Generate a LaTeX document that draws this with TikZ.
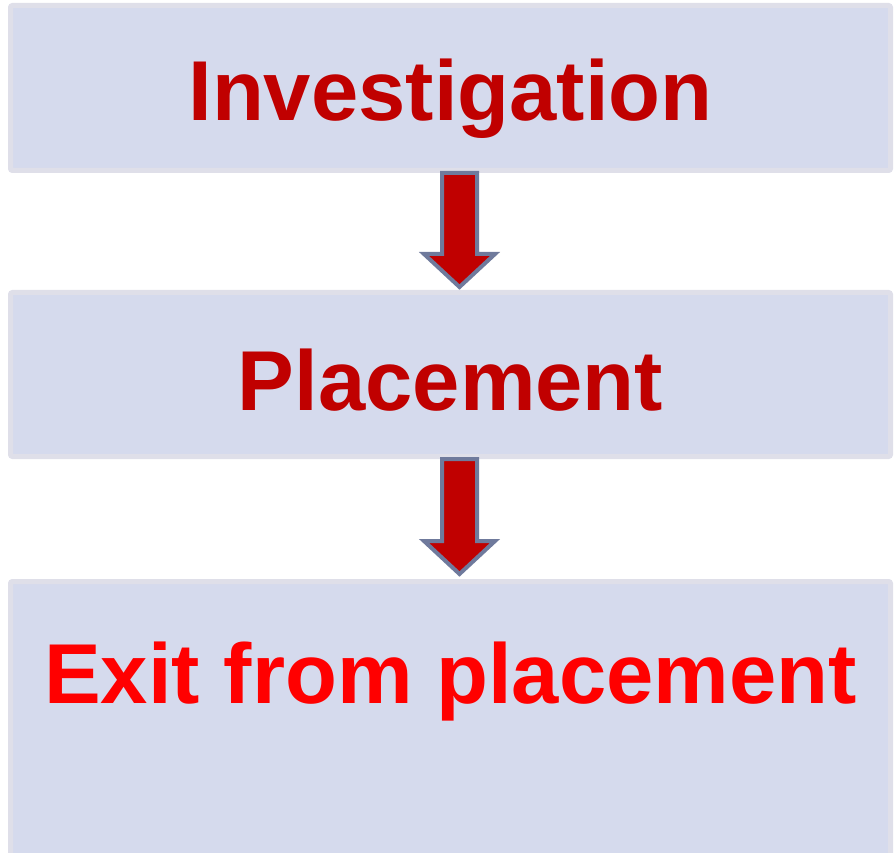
\documentclass[tikz,border=0pt]{standalone}
\usepackage{fontspec}
\setmainfont{Liberation Sans}
\usetikzlibrary{positioning}
\definecolor{stagefill}{RGB}{213,218,237}
\definecolor{stageline}{RGB}{223,223,233}
\definecolor{darkred}{RGB}{192,0,0}
\definecolor{arrowline}{RGB}{111,122,156}
\tikzstyle{stage} = [rectangle, rounded corners=2pt, fill=stagefill, draw=stageline, line width=5pt, minimum width=880pt]
\tikzstyle{stagetext} = [anchor=base, inner sep=0pt, font=\fontsize{85}{90}\selectfont\bfseries]
\tikzstyle{blockarrow} = [fill=darkred, draw=arrowline, line width=4pt, line join=miter]

\begin{document}
\begin{tikzpicture}[x=1pt,y=-1pt]
 \useasboundingbox (0,0) rectangle (895,853);
 \clip (0,0) rectangle (895,853);

 % stages
 \node (inv) [stage, minimum height=165pt] at (450.5,88) {};
 \node (plc) [stage, minimum height=164pt, below=117pt of inv] {};
 \node (ext) [stage, minimum height=300pt, below=120pt of plc] {};

 \node (invtxt) [stagetext, text=darkred] at ([yshift=-33pt]inv.center) {Investigation};
 \node (plctxt) [stagetext, text=darkred] at ([yshift=-35.5pt]plc.center) {Placement};
 \node (exttxt) [stagetext, text=red] at ([yshift=-124pt]ext.north) {Exit from placement};

 % arrows
 \draw[blockarrow] ([xshift=-8.5pt]inv.south) -- ++(0,81) -- ++(-18,0) -- ([xshift=9pt,yshift=3pt]plc.north) -- ++(35.5,-33) -- ++(-18,0) |- (inv.south) -- cycle;
 \draw[blockarrow] ([xshift=-8.5pt]plc.south) -- ++(0,82) -- ++(-18,0) -- ([xshift=9pt,yshift=5pt]ext.north) -- ++(35.5,-33) -- ++(-18,0) |- (plc.south) -- cycle;
\end{tikzpicture}
\end{document}
